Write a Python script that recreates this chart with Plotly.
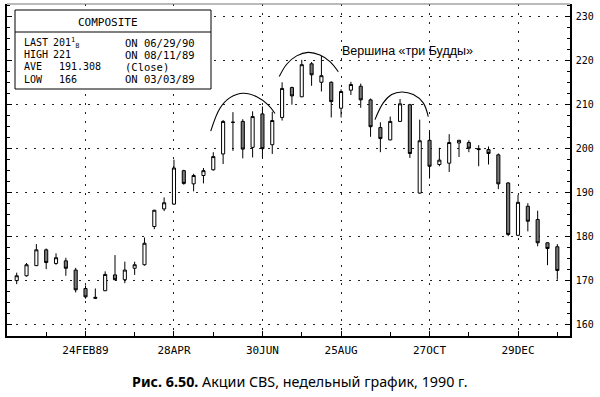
import pandas as pd
import plotly.graph_objects as go

# ---------------- data (weekly, CBS) ----------------
week_start = "1989-01-06"
n_weeks = 56
opens  = [170.0, 171.1, 173.4, 177.0, 173.9, 174.5, 172.4, 168.2, 166.2, 167.7,
          171.3, 170.2, 172.8, 173.6, 182.3, 186.3, 187.4, 195.0, 192.0, 193.9,
          195.2, 198.8, 206.0, 206.2, 200.3, 207.9, 200.9, 207.1, 213.9, 211.8,
          219.3, 215.1, 215.1, 209.2, 213.3, 214.2, 211.1, 204.8, 202.0, 206.2,
          210.0, 189.9, 201.9, 196.4, 196.7, 201.3, 201.4, 200.0, 199.8, 198.6,
          192.2, 180.3, 186.9, 183.9, 178.6, 177.7]
highs  = [171.8, 174.0, 178.3, 177.3, 176.2, 175.2, 172.9, 168.9, 168.2, 172.1,
          175.8, 174.3, 174.3, 179.8, 186.1, 188.9, 197.5, 195.2, 194.3, 195.6,
          199.2, 206.5, 208.3, 206.7, 208.5, 209.6, 208.4, 215.1, 214.1, 220.2,
          219.7, 221.1, 215.3, 213.5, 215.2, 214.8, 211.4, 206.0, 207.3, 211.3,
          210.2, 206.6, 203.9, 200.2, 203.3, 202.0, 201.9, 200.8, 200.5, 198.9,
          192.4, 189.5, 187.6, 185.9, 178.7, 178.3]
lows   = [169.2, 170.9, 173.3, 172.6, 173.6, 171.1, 167.3, 165.9, 165.8, 167.6,
          170.1, 169.4, 171.3, 173.4, 181.7, 185.8, 187.2, 191.8, 190.3, 192.1,
          195.0, 196.5, 199.5, 197.8, 198.0, 197.9, 198.8, 206.4, 210.0, 211.7,
          214.3, 213.0, 207.1, 207.1, 212.2, 209.3, 202.7, 199.2, 201.9, 206.1,
          197.9, 189.8, 193.2, 196.0, 194.7, 198.1, 199.2, 196.0, 196.4, 190.8,
          180.1, 180.1, 181.2, 177.8, 173.5, 170.2]
closes = [171.1, 173.6, 177.0, 174.1, 175.2, 172.8, 167.9, 166.3, 166.0, 171.4,
          170.2, 172.4, 173.6, 178.5, 186.0, 187.7, 195.6, 192.1, 193.9, 195.0,
          198.2, 206.2, 206.0, 199.9, 207.3, 200.0, 206.4, 213.7, 212.0, 219.1,
          216.8, 216.6, 210.7, 213.0, 214.6, 211.1, 205.0, 202.3, 206.2, 210.2,
          198.9, 201.8, 196.0, 197.4, 201.4, 201.9, 200.1, 199.8, 198.9, 192.0,
          180.5, 187.8, 183.5, 178.6, 177.3, 172.3]

x_tick_dates  = ["1989-02-24", "1989-04-28", "1989-06-30", "1989-08-25", "1989-10-27", "1989-12-29"]
x_tick_labels = ["24FEB89", "28APR", "30JUN", "25AUG", "27OCT", "29DEC"]
x_minor_dates = ["1989-01-27", "1989-03-31", "1989-05-26", "1989-07-28", "1989-09-29",
                 "1989-11-24", "1990-01-26"]
y_tick_vals = [160, 170, 180, 190, 200, 210, 220, 230]

# "three Buddhas" arcs: (week offset from week_start, price)
arc_weeks = [[19.74, 20.68, 21.70, 23.05, 24.42, 25.60, 26.28],
             [26.71, 27.47, 28.48, 29.66, 30.85, 31.87, 32.72],
             [36.45, 37.29, 38.15, 39.17, 40.35, 41.36, 41.87]]
arc_prices = [[204.0, 209.2, 211.6, 212.6, 211.8, 209.9, 208.0],
              [216.4, 219.2, 221.1, 221.9, 221.3, 219.8, 217.5],
              [206.6, 210.4, 212.3, 212.9, 212.3, 210.4, 207.3]]

box_labels = ["LAST", "HIGH", "AVE", "LOW"]
box_values = ["201<sup>1</sup><sub>8</sub>", "221", "191.308", "166"]
box_notes  = ["ON 06/29/90", "ON 08/11/89", "(Close)", "ON 03/03/89"]

# ---------------- figure ----------------
base = pd.Timestamp(week_start)
dates = [base + pd.Timedelta(weeks=i) for i in range(n_weeks)]

W, H = 600, 397
L, R, T, B = 7, 30, 4, 61
pw, ph = W - L - R, H - T - B


def px_x(px):
    return (px - L) / pw


def px_y(py):
    return (H - B - py) / ph


fig = go.Figure()
fig.add_trace(go.Candlestick(
    x=dates, open=opens, high=highs, low=lows, close=closes,
    increasing=dict(line=dict(color="black", width=1), fillcolor="white"),
    decreasing=dict(line=dict(color="black", width=1), fillcolor="#7a7a7a"),
    whiskerwidth=0, showlegend=False, hoverinfo="skip"))

for wk, pr in zip(arc_weeks, arc_prices):
    fig.add_trace(go.Scatter(
        x=[base + pd.Timedelta(days=7 * w) for w in wk], y=pr,
        mode="lines", line=dict(color="black", width=1.1, shape="spline"),
        showlegend=False, hoverinfo="skip"))

x0 = base + pd.Timedelta(days=7 * -0.987)
x1 = base + pd.Timedelta(days=7 * 56.29)

grid = dict(showgrid=True, gridcolor="#222", gridwidth=1.4, griddash="2px,7px")

fig.update_layout(
    width=W, height=H, margin=dict(l=L, r=R, t=T, b=B, autoexpand=False),
    paper_bgcolor="white", plot_bgcolor="white",
    boxgap=0.55,
    xaxis=dict(type="date", range=[x0, x1], rangeslider=dict(visible=False),
               tickmode="array", tickvals=x_tick_dates, ticktext=x_tick_labels,
               ticks="inside", ticklen=5, tickcolor="black", tickwidth=1.2,
               showline=True, linecolor="black", linewidth=2, mirror=False,
               zeroline=False, ticklabelstandoff=3, automargin=False,
               tickfont=dict(family="DejaVu Sans Mono", size=11, color="black"),
               minor=dict(tickmode="array", tickvals=x_minor_dates, ticks="inside",
                          ticklen=4, tickcolor="black", tickwidth=1.2, showgrid=False),
               **grid),
    yaxis=dict(range=[157.4, 232.9], side="right",
               tickmode="array", tickvals=y_tick_vals,
               ticks="inside", ticklen=5, tickcolor="black", tickwidth=1.2,
               showline=True, linecolor="black", linewidth=1.5, mirror="ticks",
               zeroline=False, ticklabelstandoff=2, automargin=False,
               tickfont=dict(family="DejaVu Sans Mono", size=10, color="black"),
               minor=dict(dtick=2.5, tick0=160, ticks="inside", ticklen=3,
                          tickcolor="black", tickwidth=1, showgrid=False),
               **grid),
)

# faint top border
fig.add_shape(type="line", xref="paper", yref="paper", x0=0, x1=1, y0=1, y1=1,
              line=dict(color="#777", width=1))

# info box
fig.add_shape(type="rect", xref="paper", yref="paper",
              x0=px_x(15), x1=px_x(211), y0=px_y(89), y1=px_y(10),
              line=dict(color="black", width=1), fillcolor="white", layer="above")
fig.add_shape(type="line", xref="paper", yref="paper",
              x0=px_x(15), x1=px_x(211), y0=px_y(32), y1=px_y(32),
              line=dict(color="black", width=1), layer="above")

mono = dict(family="DejaVu Sans Mono", size=10, color="black")
fig.add_annotation(text="COMPOSITE", xref="paper", yref="paper", x=px_x(107.5), y=px_y(22),
                   xanchor="center", yanchor="middle", showarrow=False,
                   font=dict(family="DejaVu Sans Mono", size=11, color="black"))
rows_y = [42.5, 54.5, 66.5, 79]
val_x = [51, 51, 57, 57]
for lab, val, note, ry, vx in zip(box_labels, box_values, box_notes, rows_y, val_x):
    fig.add_annotation(text=lab, xref="paper", yref="paper", x=px_x(22), y=px_y(ry),
                       xanchor="left", yanchor="middle", showarrow=False, font=mono)
    fig.add_annotation(text=val, xref="paper", yref="paper", x=px_x(vx), y=px_y(ry),
                       xanchor="left", yanchor="middle", showarrow=False, font=mono)
    fig.add_annotation(text=note, xref="paper", yref="paper", x=px_x(123), y=px_y(ry),
                       xanchor="left", yanchor="middle", showarrow=False,
                       font=dict(family="DejaVu Sans Mono", size=10.5, color="black"))

fig.add_annotation(text="Вершина «три Будды»", xref="paper", yref="paper",
                   x=px_x(340), y=px_y(51), xanchor="left", yanchor="middle",
                   showarrow=False,
                   font=dict(family="Liberation Sans", size=12.5, color="black"))

fig.add_annotation(text="<b>Рис. 6.50.</b> Акции CBS, недельный график, 1990 г.",
                   xref="paper", yref="paper", x=px_x(300), y=px_y(381.5),
                   xanchor="center", yanchor="middle", showarrow=False,
                   font=dict(family="Noto Sans", size=14.3, color="black"))

fig.write_html("out.html", config={"displayModeBar": False},
               post_script="document.body.style.margin='0px';")
